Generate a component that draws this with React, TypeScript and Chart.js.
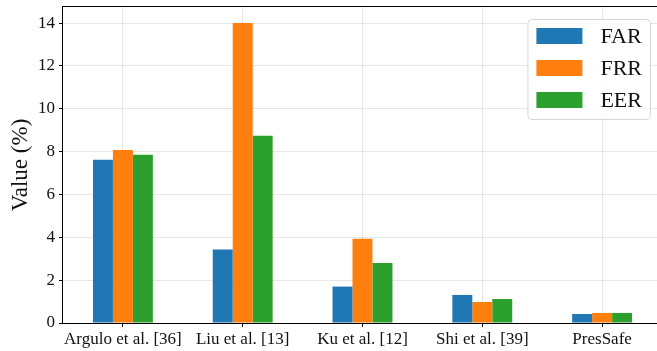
import { useEffect, useRef } from 'react';
import { Chart, registerables } from 'chart.js';

Chart.register(...registerables);

// Methods compared
const categories = ['Argulo et al. [36]', 'Liu et al. [13]', 'Ku et al. [12]', 'Shi et al. [39]', 'PresSafe'];

// Error rates in percent
const seriesNames = ['FAR', 'FRR', 'EER'];
const farValues = [7.62, 3.43, 1.70, 1.31, 0.42];
const frrValues = [8.08, 14.0, 3.93, 0.98, 0.47];
const eerValues = [7.85, 8.74, 2.80, 1.12, 0.47];

const yTicks = [0, 2, 4, 6, 8, 10, 12, 14];
const yMax = 14.75;

const seriesColors = ['#1f77b4', '#ff7f0e', '#2ca02c'];

const SERIF = '"Liberation Serif", "Times New Roman", "DejaVu Serif", serif';
const GRID = 'rgba(176,176,176,0.32)';

const CANVAS_W = 663;
const CANVAS_H = 351;

// Black box around the plotting area
const framePlugin = {
  id: 'frame',
  afterDraw(chart: any) {
    const { ctx, chartArea } = chart;
    ctx.save();
    ctx.strokeStyle = '#000';
    ctx.lineWidth = 1;
    ctx.strokeRect(
      Math.round(chartArea.left) - 0.5,
      Math.round(chartArea.top) - 0.5,
      Math.round(chartArea.right - chartArea.left) + 1,
      Math.round(chartArea.bottom - chartArea.top) + 1
    );
    ctx.restore();
  },
};

// Framed legend in the upper right corner of the plot
const legendBoxPlugin = {
  id: 'legendBox',
  afterDraw(chart: any) {
    const { ctx, chartArea } = chart;
    const datasets = chart.data.datasets;
    const fontSize = 22;
    ctx.save();
    ctx.font = `${fontSize}px ${SERIF}`;
    const textW = Math.max(...datasets.map((d: any) => ctx.measureText(d.label).width));
    const padL = 9;
    const patchW = 46;
    const patchH = 16;
    const gap = 18;
    const padR = 8;
    const rowH = 32;
    const padT = 9;
    const w = padL + patchW + gap + textW + padR;
    const h = padT * 2 + rowH * datasets.length - (rowH - patchH);
    const right = chartArea.right - 12;
    const top = chartArea.top + 12;
    const left = right - w;

    ctx.beginPath();
    (ctx as any).roundRect(left + 0.5, top + 0.5, w, h + 2, 4);
    ctx.fillStyle = 'rgba(255,255,255,0.85)';
    ctx.fill();
    ctx.strokeStyle = '#d6d6d6';
    ctx.lineWidth = 1;
    ctx.stroke();

    datasets.forEach((d: any, i: number) => {
      const py = top + padT + i * rowH;
      ctx.fillStyle = d.backgroundColor;
      ctx.fillRect(left + padL, py, patchW, patchH);
      ctx.fillStyle = '#111';
      ctx.textAlign = 'left';
      ctx.textBaseline = 'middle';
      ctx.fillText(d.label, left + padL + patchW + gap, py + patchH / 2 + 1);
    });
    ctx.restore();
  },
};

export default function App() {
  const canvasRef = useRef<HTMLCanvasElement | null>(null);

  useEffect(() => {
    const canvas = canvasRef.current;
    if (!canvas) return;
    const values = [farValues, frrValues, eerValues];
    const chart = new Chart(canvas, {
      type: 'bar',
      data: {
        labels: categories,
        datasets: seriesNames.map((name, i) => ({
          label: name,
          data: values[i],
          backgroundColor: seriesColors[i],
          borderWidth: 0,
          categoryPercentage: 0.5,
          barPercentage: 1.0,
        })),
      },
      options: {
        responsive: false,
        animation: false,
        devicePixelRatio: 1,
        layout: { padding: { top: 7, right: 1, left: 0, bottom: 0 } },
        plugins: {
          legend: { display: false },
          tooltip: { enabled: false },
        },
        scales: {
          x: {
            z: 1,
            offset: true,
            grid: {
              offset: false,
              color: GRID,
              lineWidth: 1,
              tickColor: '#000',
              tickLength: 4,
              drawOnChartArea: true,
            },
            border: { display: false },
            ticks: {
              color: '#111',
              font: { family: SERIF, size: 17 },
              padding: 2,
              maxRotation: 0,
              autoSkip: false,
            },
            afterFit(scale: any) {
              scale.height = 28;
              scale.paddingLeft = 0;
              scale.paddingRight = 0;
            },
          },
          y: {
            z: 1,
            min: 0,
            max: yMax,
            grid: {
              color: GRID,
              lineWidth: 1,
              tickColor: '#000',
              tickLength: 4,
            },
            border: { display: false },
            ticks: {
              color: '#111',
              font: { family: SERIF, size: 17 },
              padding: 4,
            },
            afterBuildTicks(scale: any) {
              scale.ticks = yTicks.map((v) => ({ value: v }));
            },
            afterFit(scale: any) {
              scale.width = 63;
              scale.paddingTop = 0;
              scale.paddingBottom = 0;
            },
            title: {
              display: true,
              text: 'Value (%)',
              color: '#111',
              font: { family: SERIF, size: 23 },
              padding: { top: 7, bottom: 0 },
            },
          },
        },
      },
      plugins: [framePlugin, legendBoxPlugin],
    });
    return () => chart.destroy();
  }, []);

  return (
    <div
      style={{
        position: 'fixed',
        left: 0,
        top: 0,
        width: 657,
        height: 351,
        overflow: 'hidden',
        background: '#fff',
      }}
    >
      <canvas
        ref={canvasRef}
        width={CANVAS_W}
        height={CANVAS_H}
        style={{ display: 'block', width: CANVAS_W, height: CANVAS_H }}
      />
    </div>
  );
}
